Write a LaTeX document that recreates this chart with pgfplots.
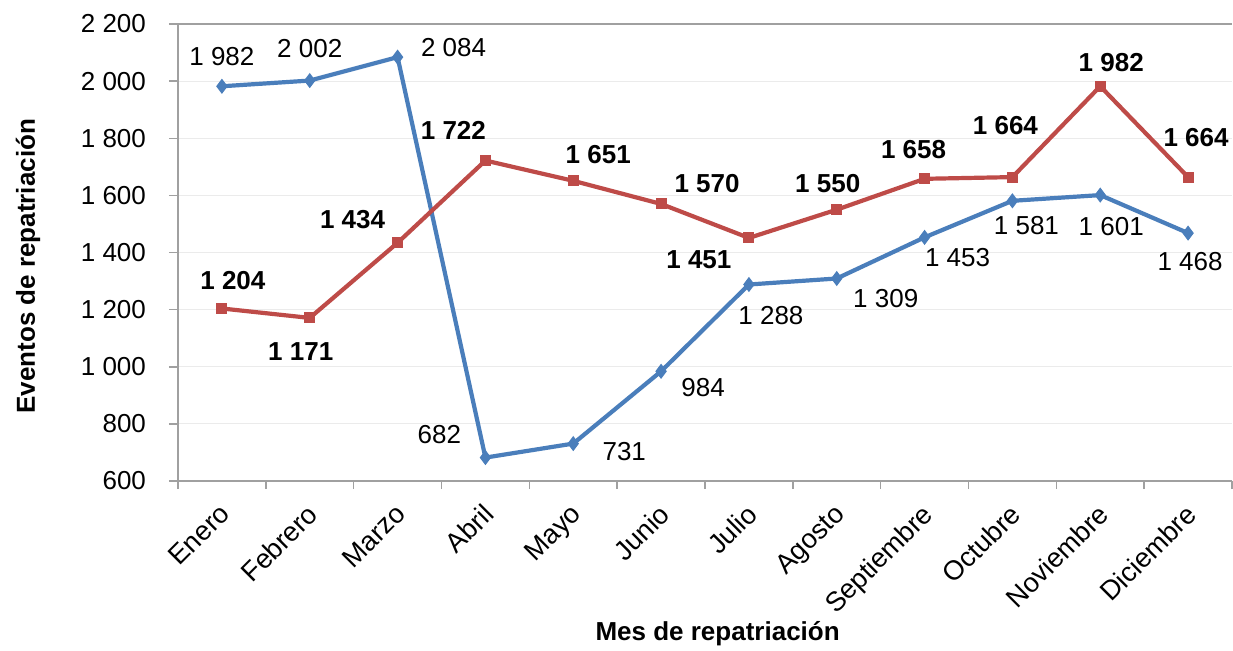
\documentclass[border=0pt]{standalone}
\usepackage{pgfplots}
\pgfplotsset{compat=1.18}
\usepackage{pgfplotstable}
\usepackage{fontspec}
\setmainfont{Liberation Sans}
\definecolor{sblue}{HTML}{4A7EBB}
\definecolor{sred}{HTML}{BE4B48}
\definecolor{axgray}{HTML}{A0A0A0}
\definecolor{gridgray}{HTML}{EBEBEB}

\pgfplotstableread{
x y dx dy
0 1982 0 15
1 2002 0 16
2 2084 28 5
3 682 -23 11.5
4 731 25.5 -4
5 984 21 -8
6 1288 11 -15.5
7 1309 24.5 -10
8 1453 16.5 -10
9 1581 7 -12.5
10 1601 5.5 -15.5
11 1468 1 -14
}\blueseries

\pgfplotstableread{
x y dx dy
0 1204 5.5 14
1 1171 -4.5 -17
2 1434 -22.5 11.5
3 1722 -16 15
4 1651 12.5 13
5 1570 23 10
6 1451 -25 -11
7 1550 -4.5 13
8 1658 -5.5 14.5
9 1664 -3.5 26
10 1982 5.5 12
11 1664 4 20
}\redseries

\newcommand{\lblfont}{\fontsize{13}{15.6}\selectfont}

\begin{document}
\begin{tikzpicture}
\begin{axis}[
  at={(0,0)}, anchor=south west,
  scale only axis, width=527pt, height=228.5pt,
  xmin=-0.5, xmax=11.5, ymin=600, ymax=2200,
  axis x line*=bottom, axis y line*=left,
  axis line style={-, draw=axgray, line width=0.75pt},
  xtick={0,...,11},
  xticklabels={Enero,Febrero,Marzo,Abril,Mayo,Junio,Julio,Agosto,Septiembre,Octubre,Noviembre,Diciembre},
  minor xtick={-0.5,0.5,...,11.5},
  major x tick style={draw=none},
  minor x tick style={draw=axgray, line width=0.75pt},
  ytick={600,800,...,2200},
  y tick style={draw=axgray, line width=0.75pt},
  tick align=outside,
  major tick length=4.5pt, minor tick length=4pt,
  ymajorgrids, major grid style={draw=gridgray, line width=0.6pt},
  tick label style={font=\lblfont},
  xticklabel style={xshift=-2pt, yshift=-4.5pt, rotate=45, anchor=north east, inner sep=1pt, font=\fontsize{13.6}{16}\selectfont},
  yticklabel style={xshift=-8pt},
  /pgf/number format/.cd, 1000 sep={\ }, assume math mode=true, /pgfplots/.cd,
  every axis y label/.style={at={(axis description cs:-0.1423,0.47)}, rotate=90, anchor=center, font=\lblfont\bfseries},
  every axis x label/.style={at={(axis description cs:0.512,-0.333)}, anchor=center, font=\lblfont\bfseries},
  ylabel={Eventos de repatriación},
  xlabel={Mes de repatriación},
  clip=false,
  visualization depends on={\thisrow{dx}\as\mydx},
  visualization depends on={\thisrow{dy}\as\mydy},
  nodes near coords={\pgfmathprintnumber[1000 sep={\ }, assume math mode=true]{\pgfplotspointmeta}},
  every node near coord/.append style={anchor=center, xshift=\mydx, yshift=\mydy, font=\lblfont, text=black},
]
\addplot[color=sblue, line width=2.1pt, mark=diamond*, mark size=3.4pt, mark options={fill=sblue, draw=sblue, line width=0.5pt}] table[x=x, y=y] {\blueseries};
\addplot[color=sred, line width=2.1pt, mark=square*, mark size=2.5pt, mark options={fill=sred, draw=sred, line width=0.5pt},
  every node near coord/.append style={font=\lblfont\bfseries}] table[x=x, y=y] {\redseries};
\draw[axgray, line width=0.75pt] (rel axis cs:0,1) -- (rel axis cs:1,1);
\end{axis}
\pgfresetboundingbox
\useasboundingbox (-89pt,-84.5pt) rectangle (527.5pt,240.5pt);
\end{tikzpicture}
\end{document}
